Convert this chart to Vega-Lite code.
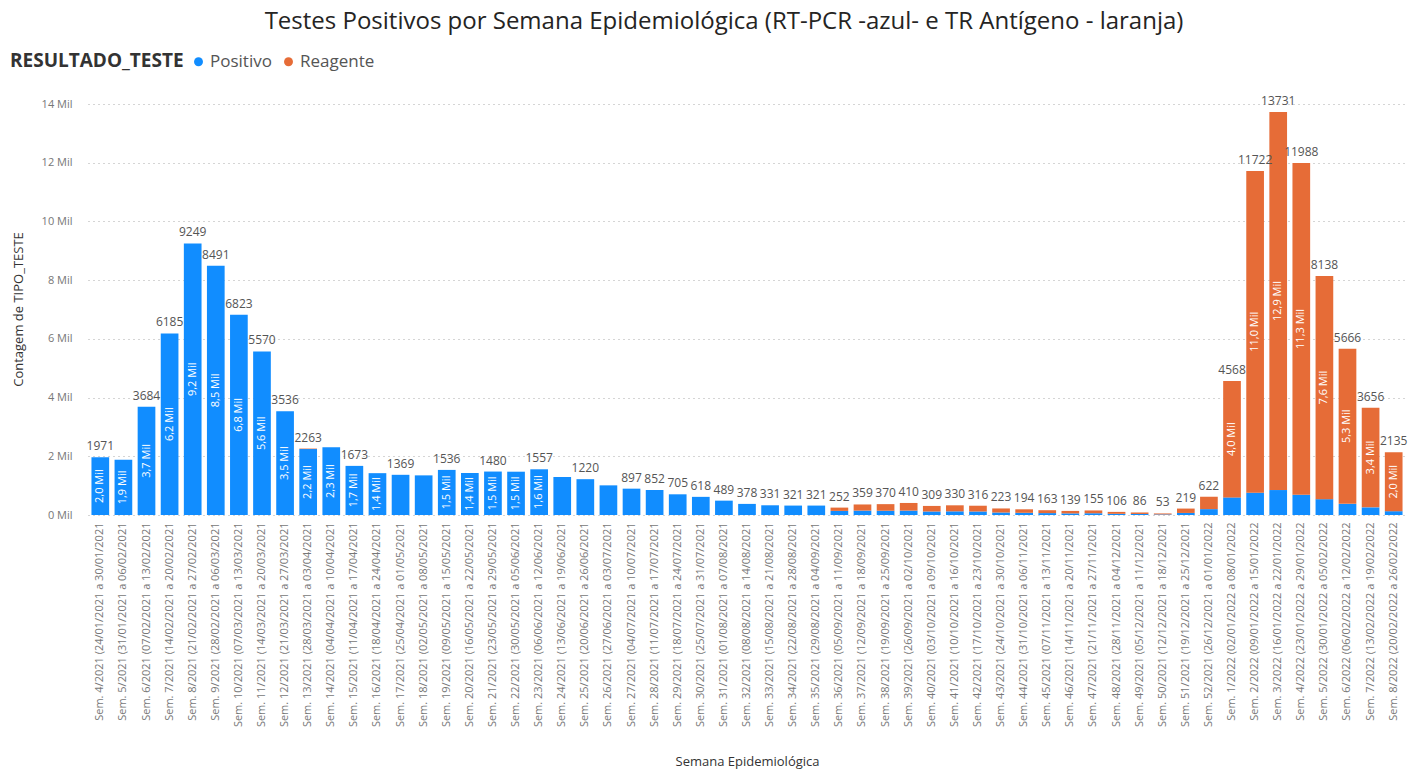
{
  "$schema": "https://vega.github.io/schema/vega-lite/v6.json",
  "width": 1318,
  "height": 411,
  "autosize": {"type": "none"},
  "padding": {"left": 88, "top": 104, "right": 2, "bottom": 254},
  "background": "white",
  "config": {"view": {"stroke": null}, "font": "Open Sans"},
  "title": {
    "text": "Testes Positivos por Semana Epidemiológica (RT-PCR -azul- e TR Antígeno - laranja)",
    "anchor": "middle",
    "frame": "group",
    "dx": -23,
    "offset": 19,
    "fontSize": 24,
    "fontWeight": "normal",
    "color": "#252423",
    "font": "Open Sans"
  },
  "data": {
    "values": [
      {"semana": "Sem. 4/2021 (24/01/2021 a 30/01/2021", "Positivo": 1971, "Reagente": 0},
      {"semana": "Sem. 5/2021 (31/01/2021 a 06/02/2021", "Positivo": 1880, "Reagente": 0},
      {"semana": "Sem. 6/2021 (07/02/2021 a 13/02/2021", "Positivo": 3684, "Reagente": 0},
      {"semana": "Sem. 7/2021 (14/02/2021 a 20/02/2021", "Positivo": 6185, "Reagente": 0},
      {"semana": "Sem. 8/2021 (21/02/2021 a 27/02/2021", "Positivo": 9249, "Reagente": 0},
      {"semana": "Sem. 9/2021 (28/02/2021 a 06/03/2021", "Positivo": 8491, "Reagente": 0},
      {"semana": "Sem. 10/2021 (07/03/2021 a 13/03/2021", "Positivo": 6823, "Reagente": 0},
      {"semana": "Sem. 11/2021 (14/03/2021 a 20/03/2021", "Positivo": 5570, "Reagente": 0},
      {"semana": "Sem. 12/2021 (21/03/2021 a 27/03/2021", "Positivo": 3536, "Reagente": 0},
      {"semana": "Sem. 13/2021 (28/03/2021 a 03/04/2021", "Positivo": 2245, "Reagente": 18},
      {"semana": "Sem. 14/2021 (04/04/2021 a 10/04/2021", "Positivo": 2310, "Reagente": 0},
      {"semana": "Sem. 15/2021 (11/04/2021 a 17/04/2021", "Positivo": 1673, "Reagente": 0},
      {"semana": "Sem. 16/2021 (18/04/2021 a 24/04/2021", "Positivo": 1425, "Reagente": 0},
      {"semana": "Sem. 17/2021 (25/04/2021 a 01/05/2021", "Positivo": 1369, "Reagente": 0},
      {"semana": "Sem. 18/2021 (02/05/2021 a 08/05/2021", "Positivo": 1350, "Reagente": 0},
      {"semana": "Sem. 19/2021 (09/05/2021 a 15/05/2021", "Positivo": 1536, "Reagente": 0},
      {"semana": "Sem. 20/2021 (16/05/2021 a 22/05/2021", "Positivo": 1430, "Reagente": 0},
      {"semana": "Sem. 21/2021 (23/05/2021 a 29/05/2021", "Positivo": 1480, "Reagente": 0},
      {"semana": "Sem. 22/2021 (30/05/2021 a 05/06/2021", "Positivo": 1475, "Reagente": 0},
      {"semana": "Sem. 23/2021 (06/06/2021 a 12/06/2021", "Positivo": 1557, "Reagente": 0},
      {"semana": "Sem. 24/2021 (13/06/2021 a 19/06/2021", "Positivo": 1295, "Reagente": 0},
      {"semana": "Sem. 25/2021 (20/06/2021 a 26/06/2021", "Positivo": 1220, "Reagente": 0},
      {"semana": "Sem. 26/2021 (27/06/2021 a 03/07/2021", "Positivo": 1010, "Reagente": 0},
      {"semana": "Sem. 27/2021 (04/07/2021 a 10/07/2021", "Positivo": 897, "Reagente": 0},
      {"semana": "Sem. 28/2021 (11/07/2021 a 17/07/2021", "Positivo": 852, "Reagente": 0},
      {"semana": "Sem. 29/2021 (18/07/2021 a 24/07/2021", "Positivo": 705, "Reagente": 0},
      {"semana": "Sem. 30/2021 (25/07/2021 a 31/07/2021", "Positivo": 618, "Reagente": 0},
      {"semana": "Sem. 31/2021 (01/08/2021 a 07/08/2021", "Positivo": 489, "Reagente": 0},
      {"semana": "Sem. 32/2021 (08/08/2021 a 14/08/2021", "Positivo": 378, "Reagente": 0},
      {"semana": "Sem. 33/2021 (15/08/2021 a 21/08/2021", "Positivo": 331, "Reagente": 0},
      {"semana": "Sem. 34/2021 (22/08/2021 a 28/08/2021", "Positivo": 321, "Reagente": 0},
      {"semana": "Sem. 35/2021 (29/08/2021 a 04/09/2021", "Positivo": 321, "Reagente": 0},
      {"semana": "Sem. 36/2021 (05/09/2021 a 11/09/2021", "Positivo": 140, "Reagente": 112},
      {"semana": "Sem. 37/2021 (12/09/2021 a 18/09/2021", "Positivo": 150, "Reagente": 209},
      {"semana": "Sem. 38/2021 (19/09/2021 a 25/09/2021", "Positivo": 145, "Reagente": 225},
      {"semana": "Sem. 39/2021 (26/09/2021 a 02/10/2021", "Positivo": 150, "Reagente": 260},
      {"semana": "Sem. 40/2021 (03/10/2021 a 09/10/2021", "Positivo": 120, "Reagente": 189},
      {"semana": "Sem. 41/2021 (10/10/2021 a 16/10/2021", "Positivo": 125, "Reagente": 205},
      {"semana": "Sem. 42/2021 (17/10/2021 a 23/10/2021", "Positivo": 120, "Reagente": 196},
      {"semana": "Sem. 43/2021 (24/10/2021 a 30/10/2021", "Positivo": 85, "Reagente": 138},
      {"semana": "Sem. 44/2021 (31/10/2021 a 06/11/2021", "Positivo": 75, "Reagente": 119},
      {"semana": "Sem. 45/2021 (07/11/2021 a 13/11/2021", "Positivo": 65, "Reagente": 98},
      {"semana": "Sem. 46/2021 (14/11/2021 a 20/11/2021", "Positivo": 55, "Reagente": 84},
      {"semana": "Sem. 47/2021 (21/11/2021 a 27/11/2021", "Positivo": 60, "Reagente": 95},
      {"semana": "Sem. 48/2021 (28/11/2021 a 04/12/2021", "Positivo": 40, "Reagente": 66},
      {"semana": "Sem. 49/2021 (05/12/2021 a 11/12/2021", "Positivo": 35, "Reagente": 51},
      {"semana": "Sem. 50/2021 (12/12/2021 a 18/12/2021", "Positivo": 20, "Reagente": 33},
      {"semana": "Sem. 51/2021 (19/12/2021 a 25/12/2021", "Positivo": 70, "Reagente": 149},
      {"semana": "Sem. 52/2021 (26/12/2021 a 01/01/2022", "Positivo": 200, "Reagente": 422},
      {"semana": "Sem. 1/2022 (02/01/2022 a 08/01/2022", "Positivo": 600, "Reagente": 3968},
      {"semana": "Sem. 2/2022 (09/01/2022 a 15/01/2022", "Positivo": 760, "Reagente": 10962},
      {"semana": "Sem. 3/2022 (16/01/2022 a 22/01/2022", "Positivo": 850, "Reagente": 12881},
      {"semana": "Sem. 4/2022 (23/01/2022 a 29/01/2022", "Positivo": 690, "Reagente": 11298},
      {"semana": "Sem. 5/2022 (30/01/2022 a 05/02/2022", "Positivo": 540, "Reagente": 7598},
      {"semana": "Sem. 6/2022 (06/02/2022 a 12/02/2022", "Positivo": 380, "Reagente": 5286},
      {"semana": "Sem. 7/2022 (13/02/2022 a 19/02/2022", "Positivo": 260, "Reagente": 3396},
      {"semana": "Sem. 8/2022 (20/02/2022 a 26/02/2022", "Positivo": 130, "Reagente": 2005}
    ]
  },
  "transform": [
    {"fold": ["Positivo", "Reagente"], "as": ["resultado", "valor"]},
    {"stack": "valor", "groupby": ["semana"], "sort": [{"field": "resultado", "order": "ascending"}], "as": ["v0", "v1"]}
  ],
  "encoding": {
    "x": {
      "field": "semana",
      "type": "nominal",
      "sort": null,
      "scale": {"paddingInner": 0.234, "paddingOuter": 0.15},
      "axis": {
        "labelAngle": -90,
        "labelAlign": "right",
        "labelBaseline": "middle",
        "labelFontSize": 11,
        "labelColor": "#777777",
        "labelPadding": 7,
        "labelLimit": 300,
        "labelOverlap": false,
        "ticks": false,
        "domain": false,
        "title": "Semana Epidemiológica",
        "titleFontSize": 13,
        "titleFontWeight": "normal",
        "titleColor": "#333333",
        "titleY": 250,
        "titleBaseline": "alphabetic"
      }
    }
  },
  "layer": [
    {
      "mark": {"type": "bar"},
      "encoding": {
        "y": {
          "field": "v1",
          "type": "quantitative",
          "scale": {"domain": [0, 14000]},
          "axis": {
            "values": [0, 2000, 4000, 6000, 8000, 10000, 12000, 14000],
            "labelExpr": "(datum.value / 1000) + ' Mil'",
            "grid": true,
            "gridDash": [1, 4],
            "gridColor": "#aaaaaa",
            "domain": false,
            "ticks": false,
            "labelFontSize": 11,
            "labelColor": "#777777",
            "labelPadding": 16,
            "title": "Contagem de TIPO_TESTE",
            "titleFontSize": 13,
            "titleFontWeight": "normal",
            "titleColor": "#333333",
            "titleX": -70,
            "titleY": 205,
            "titleBaseline": "middle"
          }
        },
        "y2": {"field": "v0"},
        "color": {
          "field": "resultado",
          "type": "nominal",
          "scale": {"domain": ["Positivo", "Reagente"], "range": ["#118DFF", "#E66C37"]},
          "legend": {
            "orient": "none",
            "legendX": -78,
            "legendY": -51,
            "direction": "horizontal",
            "titleOrient": "left",
            "title": "RESULTADO_TESTE",
            "titleFontSize": 19,
            "titleFontWeight": "bold",
            "titleColor": "#333333",
            "titlePadding": 6,
            "labelFontSize": 17,
            "labelColor": "#555555",
            "labelOffset": 3,
            "symbolType": "circle",
            "symbolSize": 80,
            "symbolStrokeWidth": 0,
            "symbolOpacity": 1,
            "columnPadding": 8
          }
        }
      }
    },
    {
      "transform": [
        {"filter": "datum.valor >= 1400"},
        {"calculate": "(datum.v0 + datum.v1) / 2", "as": "meio"},
        {"calculate": "replace(format(datum.valor / 1000, '.1f'), '.', ',') + ' Mil'", "as": "rotulo"}
      ],
      "mark": {"type": "text", "angle": 270, "color": "white", "fontSize": 11, "align": "center", "baseline": "middle"},
      "encoding": {
        "y": {"field": "meio", "type": "quantitative"},
        "text": {"field": "rotulo"}
      }
    },
    {
      "transform": [
        {"filter": "datum.resultado == 'Reagente'"},
        {"filter": "!test(/^Sem\\. (5|14|16|18|20|22|24|26)\\/2021 /, datum.semana)"}
      ],
      "mark": {"type": "text", "baseline": "bottom", "dy": -4, "fontSize": 12, "color": "#555555"},
      "encoding": {
        "y": {"field": "v1", "type": "quantitative"},
        "text": {"field": "v1", "type": "quantitative", "format": "d"}
      }
    }
  ]
}
